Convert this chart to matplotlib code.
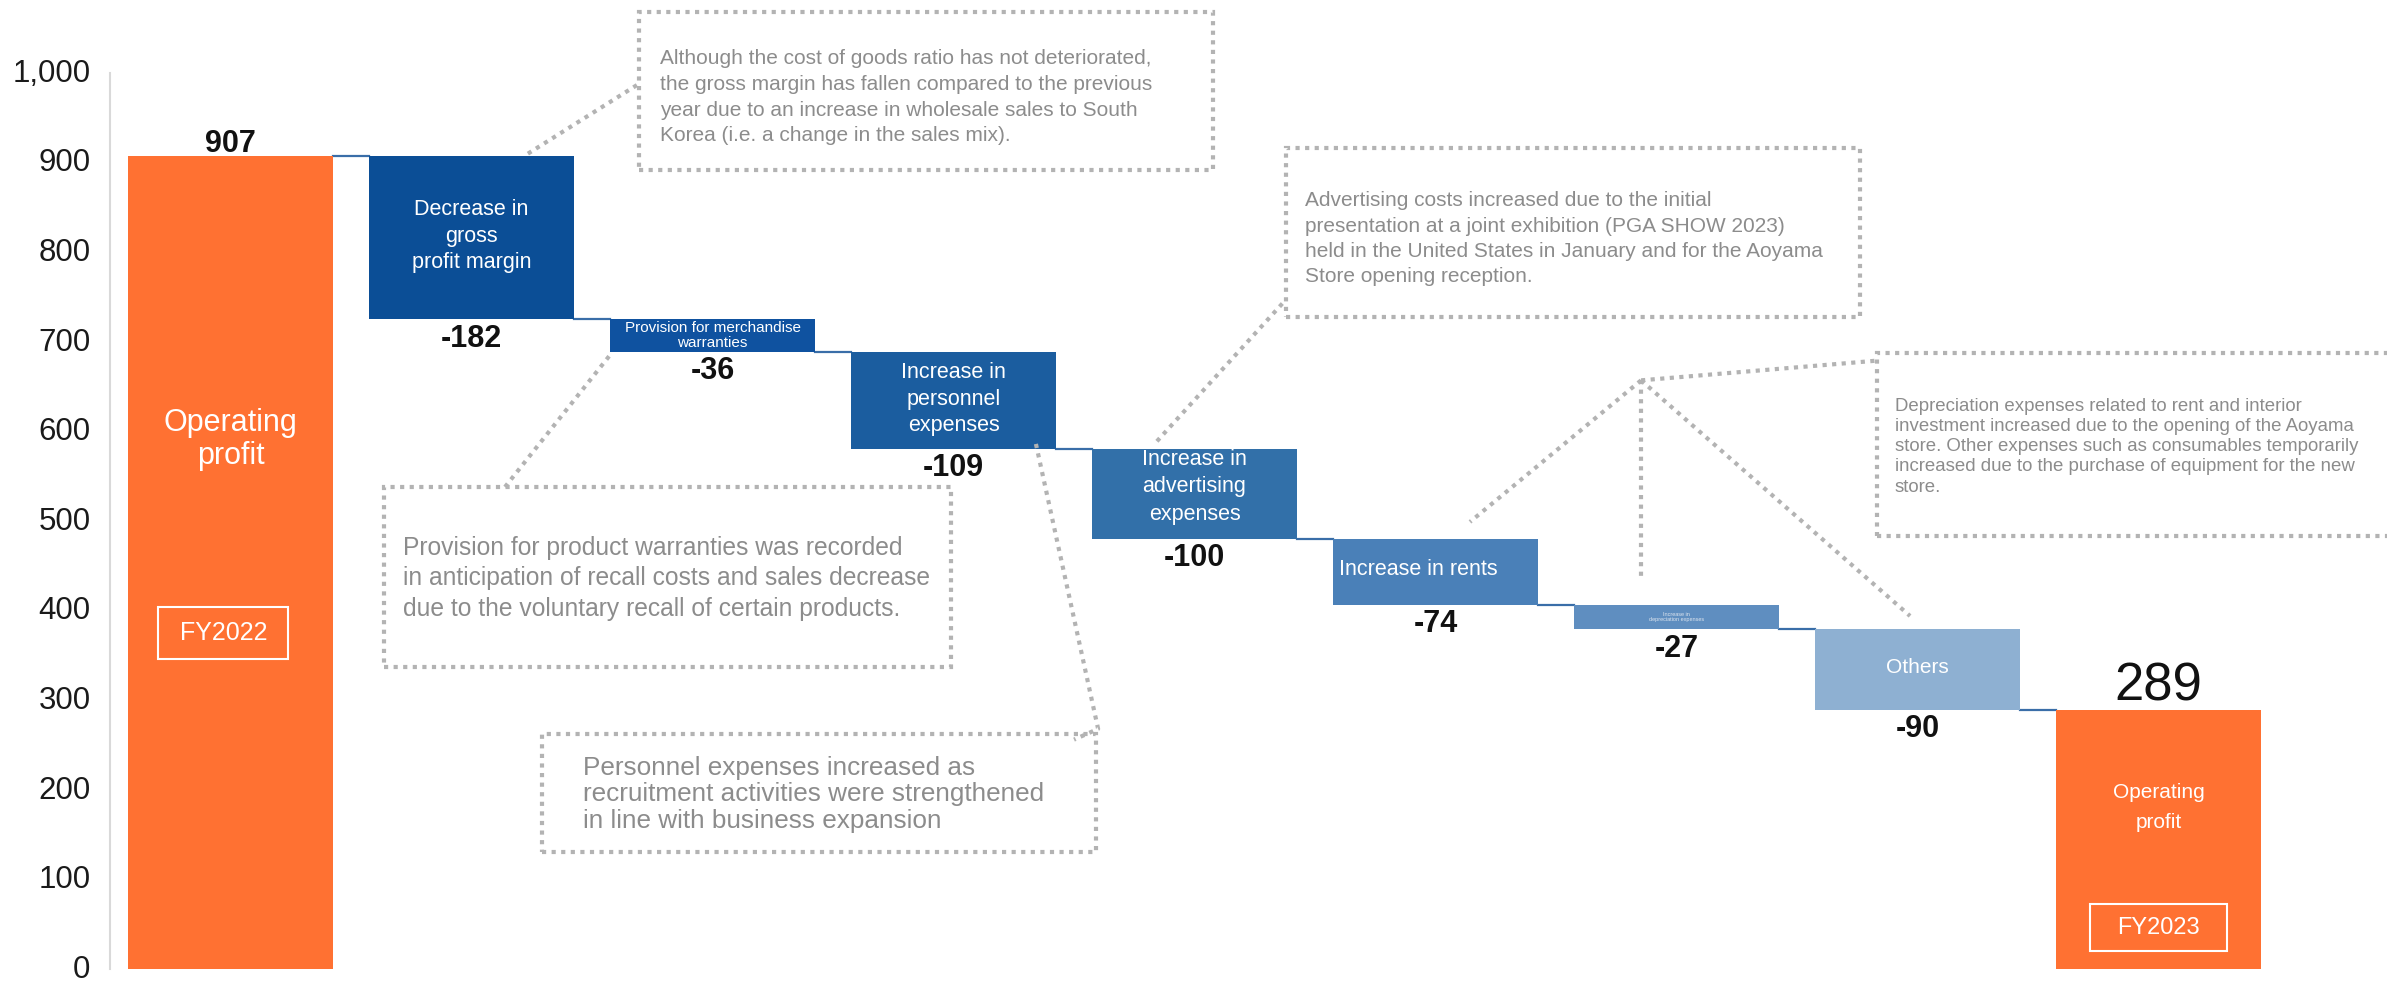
import numpy as np
import matplotlib
matplotlib.use('Agg')
import matplotlib.pyplot as plt
from matplotlib.patches import Rectangle
from matplotlib.transforms import ScaledTranslation

plt.rcParams['font.family'] = ['Liberation Sans', 'DejaVu Sans']

#DATA
steps = ['FY2022', 'Decrease in gross profit margin',
         'Provision for merchandise warranties', 'Increase in personnel expenses',
         'Increase in advertising expenses', 'Increase in rents',
         'Increase in depreciation expenses', 'Others', 'FY2023']
start_value = 907
changes = [-182, -36, -109, -100, -74, -27, -90]
end_value = 289

bar_texts = ['Operating\nprofit', 'Decrease in\ngross\nprofit margin',
             'Provision for merchandise\nwarranties',
             'Increase in\npersonnel\nexpenses',
             'Increase in\nadvertising\nexpenses', 'Increase in rents',
             'Increase in\ndepreciation expenses', 'Others',
             'Operating\nprofit']
yticks = list(range(0, 1001, 100))

note_gross = ('Although the cost of goods ratio has not deteriorated,\n'
              'the gross margin has fallen compared to the previous\n'
              'year due to an increase in wholesale sales to South\n'
              'Korea (i.e. a change in the sales mix).')
note_adv = ('Advertising costs increased due to the initial\n'
            'presentation at a joint exhibition (PGA SHOW 2023)\n'
            'held in the United States in January and for the Aoyama\n'
            'Store opening reception.')
note_prov = ('Provision for product warranties was recorded\n'
             'in anticipation of recall costs and sales decrease\n'
             'due to the voluntary recall of certain products.')
note_pers = ('Personnel expenses increased as\n'
             'recruitment activities were strengthened\n'
             'in line with business expansion')
note_depr = ('Depreciation expenses related to rent and interior\n'
             'investment increased due to the opening of the Aoyama\n'
             'store. Other expenses such as consumables temporarily\n'
             'increased due to the purchase of equipment for the new\n'
             'store.')

#COLOURS
orange = '#FF7132'
bar_colors = [orange, '#0B4E96', '#0F52A0', '#1B5D9F', '#3270A9',
              '#4A80B8', '#5F8EC0', '#8EB0D2', orange]
note_grey = '#8C8C8C'
dot_grey = '#B3B3B3'

#waterfall levels
levels = start_value + np.cumsum([0] + changes)      # 907 ... 289
heights = [start_value] + [-c for c in changes] + [end_value]
bottoms = [0] + list(levels[1:]) + [0]
x = np.arange(len(steps))
w = 0.85

fig = plt.figure(figsize=(23.87, 9.82), dpi=100)
ax = fig.add_axes([0.04608, 0.01324, 0.95392, 0.9124])
ax.set_xlim(-0.5, 8.948)
ax.set_ylim(0, 1000)

ax.bar(x, heights, bottom=bottoms, width=w, color=bar_colors, zorder=2)

# connectors
for i in range(len(steps) - 1):
    ax.plot([x[i] + w/2, x[i+1] - w/2], [levels[i], levels[i]],
            color='#3A6EA8', lw=1.6, zorder=1)

# axis
ax.set_yticks(yticks)
ax.set_yticklabels([f'{t:,}' for t in yticks])
ax.set_xticks([])
ax.tick_params(axis='y', length=0, pad=14, labelsize=22.5, labelcolor='#1a1a1a')
up = ScaledTranslation(0, 2/72, fig.dpi_scale_trans)
for lbl in ax.get_yticklabels():
    lbl.set_transform(lbl.get_transform() + up)
for s in ['top', 'right', 'bottom']:
    ax.spines[s].set_visible(False)
ax.spines['left'].set_color('#D9D9D9')
ax.spines['left'].set_linewidth(1.5)

# value labels
ax.annotate(f'{start_value}', (x[0], start_value), xytext=(0, 3),
            textcoords='offset points', ha='center', va='baseline',
            fontsize=22, fontweight='bold', color='#111111')
for i, c in enumerate(changes):
    ax.annotate(f'{c}', (x[i+1], levels[i+1]), xytext=(0, -3),
                textcoords='offset points', ha='center', va='top',
                fontsize=22, fontweight='bold', color='#111111')
ax.annotate(f'{end_value}', (x[-1], end_value), xytext=(0, 7),
            textcoords='offset points', ha='center', va='baseline',
            fontsize=38, color='#111111')

# text inside bars
ax.text(x[0], 591, bar_texts[0], ha='center', va='center', color='white',
        fontsize=22, linespacing=1.15)
ax.text(x[1], 818, bar_texts[1], ha='center', va='center', color='white',
        fontsize=15.5, linespacing=1.32)
ax.text(x[2], 707, bar_texts[2], ha='center', va='center', color='white',
        fontsize=11, linespacing=1.05)
ax.text(x[3], 636, bar_texts[3], ha='center', va='center', color='white',
        fontsize=15.5, linespacing=1.35)
ax.text(x[4], 538, bar_texts[4], ha='center', va='center', color='white',
        fontsize=15.5, linespacing=1.4)
ax.text(4.6, 446, bar_texts[5], ha='left', va='center', color='white',
        fontsize=15.5)
ax.text(x[6], 393, bar_texts[6], ha='center', va='center', color='#DDE5EF',
        fontsize=4, linespacing=1.1)
ax.text(x[7], 337, bar_texts[7], ha='center', va='center', color='white',
        fontsize=15)
ax.text(x[8], 180, bar_texts[8], ha='center', va='center', color='white',
        fontsize=15, linespacing=1.75)

# FY boxes
ax.add_patch(Rectangle((-0.03 - 0.27, 346), 0.54, 58, fill=False,
                       edgecolor='white', lw=1.5, zorder=3))
ax.text(-0.03, 375, steps[0], ha='center', va='center', color='white', fontsize=18)
ax.add_patch(Rectangle((x[8] - 0.285, 20), 0.57, 52.5, fill=False,
                       edgecolor='white', lw=1.5, zorder=3))
ax.text(x[8], 46, steps[8], ha='center', va='center', color='white', fontsize=17)

# dotted note boxes and leaders
dots = (0, (1, 1.3))
def note_box(x0, y0, x1, y1):
    ax.add_patch(Rectangle((x0, y0), x1 - x0, y1 - y0, fill=False,
                           edgecolor=dot_grey, lw=3, linestyle=dots,
                           clip_on=False, zorder=4))

def leader(xs, ys):
    ax.plot(xs, ys, color=dot_grey, lw=3, linestyle=dots,
            clip_on=False, zorder=4)

note_box(1.695, 892, 4.077, 1068)
ax.text(1.782, 973, note_gross, ha='left', va='center', color=note_grey,
        fontsize=15, linespacing=1.45, clip_on=False)
leader([1.234, 1.695], [910, 988])

note_box(4.379, 728, 6.76, 916)
ax.text(4.46, 815, note_adv, ha='left', va='center', color=note_grey,
        fontsize=15, linespacing=1.42)
leader([3.844, 4.379], [589, 747])

note_box(0.637, 337, 2.99, 538)
ax.text(0.716, 436, note_prov, ha='left', va='center', color=note_grey,
        fontsize=17.7, linespacing=1.33)
leader([1.139, 1.583], [538, 688])

note_box(1.293, 131, 3.59, 262)
ax.text(1.463, 195, note_pers, ha='left', va='center', color=note_grey,
        fontsize=18.8, linespacing=1.12)
leader([3.342, 3.60, 3.50], [586, 268, 256])

note_box(6.832, 483, 9.3, 687)
ax.text(6.905, 583, note_depr, ha='left', va='center', color=note_grey,
        fontsize=13.4, linespacing=1.25)
leader([5.853, 6.832], [657, 679])
leader([5.853, 5.143], [657, 499])
leader([5.853, 5.853], [657, 436])
leader([5.853, 6.969], [657, 394])

fig.savefig('out.png', dpi=100, facecolor='white')
